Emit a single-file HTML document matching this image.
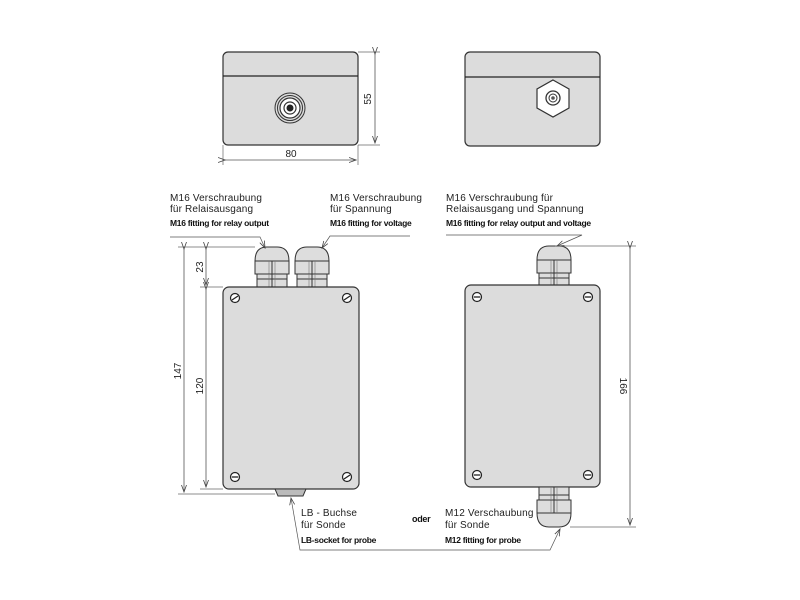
<!DOCTYPE html>
<html><head><meta charset="utf-8"><style>
html,body{margin:0;padding:0;background:#fff}
svg{display:block}
.t{font-family:"Liberation Sans",sans-serif;font-size:10px;fill:#222;letter-spacing:0.15px}
.e{font-family:"Liberation Sans Narrow","Liberation Sans",sans-serif;font-size:8.5px;font-weight:bold;fill:#111;letter-spacing:-0.3px}
.d{font-family:"Liberation Sans",sans-serif;font-size:10px;fill:#222}
</style></head><body>
<svg width="800" height="600" viewBox="0 0 800 600" xmlns="http://www.w3.org/2000/svg">
<defs>
<marker id="a" markerWidth="8" markerHeight="6" refX="7" refY="3" orient="auto" markerUnits="userSpaceOnUse"><path d="M0,0.5 L7,3 L0,5.5" fill="none" stroke="#444" stroke-width="0.8"/></marker>
<g id="sc"><circle r="4.5" fill="#fff" stroke="#222" stroke-width="1.2"/><line x1="-3" y1="2" x2="3" y2="-2" stroke="#222" stroke-width="1.3"/></g>
<g id="sh"><circle r="4.5" fill="#fff" stroke="#222" stroke-width="1.2"/><line x1="-3.2" y1="0" x2="3.2" y2="0" stroke="#222" stroke-width="1.3"/></g>
<g id="gl">
 <path d="M0,14 Q0,0 12,0 L22,0 Q34,0 34,14 Z" fill="#ddd" stroke="#333" stroke-width="1"/>
 <rect x="0" y="14" width="34" height="13" fill="#ddd" stroke="#333" stroke-width="1"/>
 <line x1="17" y1="14" x2="17" y2="27" stroke="#333"/>
 <line x1="14" y1="14" x2="14" y2="27" stroke="#777" stroke-width="0.6"/>
 <line x1="20" y1="14" x2="20" y2="27" stroke="#777" stroke-width="0.6"/>
 <rect x="2" y="27" width="30" height="13" fill="#ddd" stroke="#333" stroke-width="1"/>
 <line x1="2" y1="32" x2="32" y2="32" stroke="#333"/>
 <line x1="17" y1="27" x2="17" y2="40" stroke="#333"/>
 <line x1="14" y1="27" x2="14" y2="40" stroke="#777" stroke-width="0.6"/>
 <line x1="20" y1="27" x2="20" y2="40" stroke="#777" stroke-width="0.6"/>
</g>
</defs>

<rect x="223" y="52" width="135" height="93" rx="5" fill="#dcdcdc" stroke="#333" stroke-width="1.2"/>
<line x1="223" y1="76" x2="358" y2="76" stroke="#222" stroke-width="1.2"/>
<circle cx="290" cy="108" r="15" fill="#dcdcdc" stroke="#333" stroke-width="1"/>
<circle cx="290" cy="108" r="12.5" fill="none" stroke="#333" stroke-width="1"/>
<circle cx="290" cy="108" r="10" fill="#fff" stroke="#333" stroke-width="1.2"/>
<circle cx="290" cy="108" r="6" fill="#fff" stroke="#333" stroke-width="1.2"/>
<circle cx="290" cy="108" r="3.5" fill="#222"/>
<line x1="358" y1="52" x2="380" y2="52" stroke="#666" stroke-width="0.7"/>
<line x1="358" y1="145" x2="380" y2="145" stroke="#666" stroke-width="0.7"/>
<line x1="375" y1="54" x2="375" y2="143" stroke="#555" stroke-width="0.8" marker-start="url(#a)" marker-end="url(#a)"/>
<text class="d" transform="translate(371,99) rotate(-90)" text-anchor="middle">55</text>
<line x1="223" y1="145" x2="223" y2="165" stroke="#666" stroke-width="0.7"/>
<line x1="358" y1="145" x2="358" y2="165" stroke="#666" stroke-width="0.7"/>
<line x1="225" y1="160" x2="356" y2="160" stroke="#555" stroke-width="0.8" marker-start="url(#a)" marker-end="url(#a)"/>
<text class="d" x="291" y="157" text-anchor="middle">80</text>

<rect x="465" y="52" width="135" height="94" rx="5" fill="#dcdcdc" stroke="#333" stroke-width="1.2"/>
<line x1="465" y1="77" x2="600" y2="77" stroke="#222" stroke-width="1.2"/>
<polygon points="553,80 569,89 569,108 553,117 537,108 537,89" fill="#fff" stroke="#333" stroke-width="1.2"/>
<circle cx="553" cy="98" r="7" fill="#fff" stroke="#333" stroke-width="1.3"/>
<circle cx="553" cy="98" r="4" fill="#fff" stroke="#333" stroke-width="1"/>
<circle cx="553" cy="98" r="1.8" fill="#555"/>

<use href="#gl" x="255" y="247"/>
<use href="#gl" x="295" y="247"/>
<rect x="223" y="287" width="136" height="202" rx="6" fill="#dcdcdc" stroke="#333" stroke-width="1.2"/>
<use href="#sc" x="235" y="298"/>
<use href="#sc" x="347" y="298"/>
<use href="#sh" x="235" y="477"/>
<use href="#sc" x="347" y="477"/>
<path d="M275,489 L306,489 L303,496 L278,496 Z" fill="#bbb" stroke="#333" stroke-width="1"/>
<line x1="178" y1="247" x2="255" y2="247" stroke="#666" stroke-width="0.7"/>
<line x1="200" y1="287" x2="223" y2="287" stroke="#666" stroke-width="0.7"/>
<line x1="178" y1="494" x2="275" y2="494" stroke="#666" stroke-width="0.7"/>
<line x1="200" y1="489" x2="223" y2="489" stroke="#666" stroke-width="0.7"/>
<line x1="184" y1="249" x2="184" y2="492" stroke="#555" stroke-width="0.8" marker-start="url(#a)" marker-end="url(#a)"/>
<line x1="206" y1="249" x2="206" y2="285" stroke="#555" stroke-width="0.8" marker-start="url(#a)" marker-end="url(#a)"/>
<line x1="206" y1="289" x2="206" y2="487" stroke="#555" stroke-width="0.8" marker-start="url(#a)" marker-end="url(#a)"/>
<text class="d" transform="translate(203,267) rotate(-90)" text-anchor="middle">23</text>
<text class="d" transform="translate(181,371) rotate(-90)" text-anchor="middle">147</text>
<text class="d" transform="translate(203,386) rotate(-90)" text-anchor="middle">120</text>

<use href="#gl" x="537" y="246"/>
<rect x="465" y="285" width="135" height="202" rx="6" fill="#dcdcdc" stroke="#333" stroke-width="1.2"/>
<use href="#sh" x="477" y="297"/>
<use href="#sh" x="588" y="297"/>
<use href="#sh" x="477" y="475"/>
<use href="#sh" x="588" y="475"/>
<g transform="translate(537,527) scale(1,-1)"><use href="#gl"/></g>
<line x1="555" y1="246" x2="636" y2="246" stroke="#666" stroke-width="0.7"/>
<line x1="570" y1="527" x2="636" y2="527" stroke="#666" stroke-width="0.7"/>
<line x1="630" y1="248" x2="630" y2="525" stroke="#555" stroke-width="0.8" marker-start="url(#a)" marker-end="url(#a)"/>
<text class="d" transform="translate(620,386) rotate(90)" text-anchor="middle">166</text>

<text class="t" x="170" y="201">M16 Verschraubung</text>
<text class="t" x="170" y="212">für Relaisausgang</text>
<text class="e" x="170" y="226">M16 fitting for relay output</text>
<polyline points="170,237 260,237 265,248" fill="none" stroke="#555" stroke-width="0.7" marker-end="url(#a)"/>
<text class="t" x="330" y="201">M16 Verschraubung</text>
<text class="t" x="330" y="212">für Spannung</text>
<text class="e" x="330" y="226">M16 fitting for voltage</text>
<polyline points="410,236 330,236 322,248" fill="none" stroke="#555" stroke-width="0.7" marker-end="url(#a)"/>
<text class="t" x="446" y="201">M16 Verschraubung für</text>
<text class="t" x="446" y="212">Relaisausgang und Spannung</text>
<text class="e" x="446" y="226">M16 fitting for relay output and voltage</text>
<polyline points="446,235 582,235 557,246" fill="none" stroke="#555" stroke-width="0.7" marker-end="url(#a)"/>

<text class="t" x="301" y="516">LB - Buchse</text>
<text class="t" x="301" y="528">für Sonde</text>
<text class="e" x="301" y="543">LB-socket for probe</text>
<text class="e" x="412" y="522" style="font-size:9px">oder</text>
<text class="t" x="445" y="516">M12 Verschaubung</text>
<text class="t" x="445" y="528">für Sonde</text>
<text class="e" x="445" y="543">M12 fitting for probe</text>
<polyline points="548,550 300,550 291,498" fill="none" stroke="#555" stroke-width="0.7" marker-end="url(#a)"/>
<polyline points="548,550 550,550 560,529" fill="none" stroke="#555" stroke-width="0.7" marker-end="url(#a)"/>
</svg>
</body></html>
